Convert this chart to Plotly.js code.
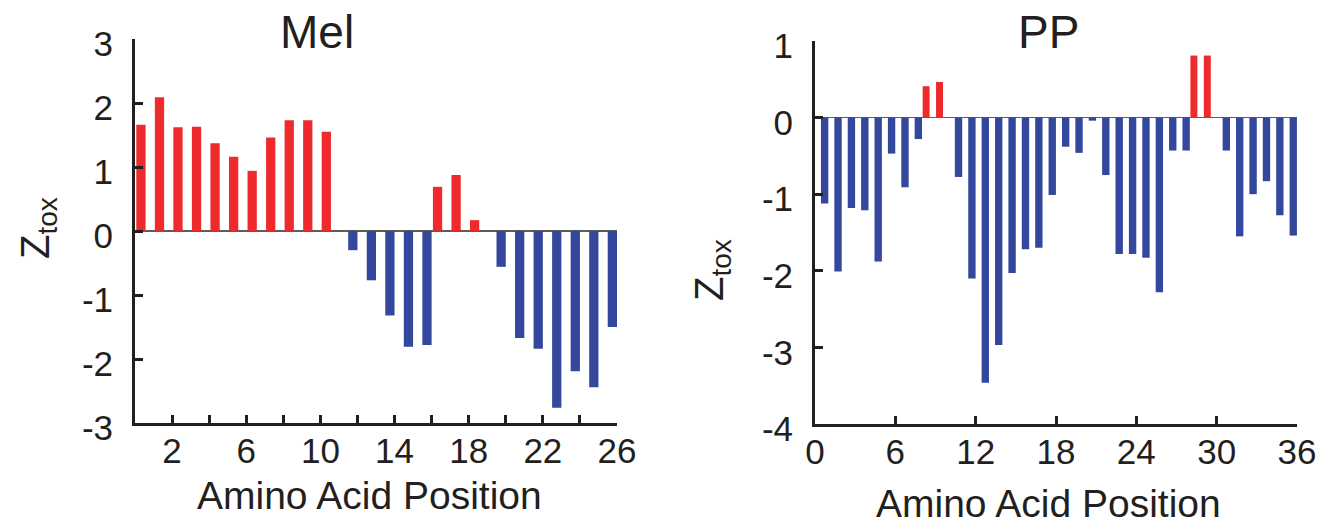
<!DOCTYPE html>
<html>
<head>
<meta charset="utf-8">
<script src="https://cdn.plot.ly/plotly-3.0.1.min.js"></script>
<style>
  html, body { margin: 0; padding: 0; background: #ffffff; }
  #chart { width: 1317px; height: 527px; }
</style>
</head>
<body>
<div id="chart"></div>
<script>
// ---- Data ----
const melPositions = [1,2,3,4,5,6,7,8,9,10,11,12,13,14,15,16,17,18,19,20,21,22,23,24,25,26];
const melValues = [1.66, 2.09, 1.62, 1.63, 1.37, 1.16, 0.94, 1.46, 1.73, 1.73, 1.55,
                   -0.30, -0.77, -1.32, -1.81, -1.78, 0.69, 0.875, 0.17,
                   -0.56, -1.67, -1.84, -2.76, -2.19, -2.44, -1.50];

const ppPositions = [1,2,3,4,5,6,7,8,9,10,11,12,13,14,15,16,17,18,19,20,21,22,23,24,25,26,27,28,29,30,31,32,33,34,35,36];
const ppValues = [-1.12, -2.01, -1.18, -1.21, -1.88, -0.47, -0.91, -0.28, 0.41, 0.465,
                  -0.775, -2.10, -3.46, -2.97, -2.03, -1.72, -1.70, -1.01, -0.38, -0.46,
                  -0.04, -0.75, -1.78, -1.78, -1.83, -2.28, -0.43, -0.43, 0.81, 0.81,
                  -0.43, -1.55, -1.00, -0.83, -1.275, -1.54];

const melXTickVals = [0,2,4,6,8,10,12,14,16,18,20,22,24,26];
const melXTickText = ["","2","","6","","10","","14","","18","","22","","26"];
const melYTickVals = [-3,-2,-1,0,1,2,3];
const melYTickText = ["-3","-2","-1","0","1","2","3"];

const ppXTickVals = [0,6,12,18,24,30,36];
const ppXTickText = ["0","6","12","18","24","30","36"];
const ppYTickVals = [-4,-3,-2,-1,0,1];
const ppYTickText = ["-4","-3","-2","-1","0","1"];

const titles = ["Mel", "PP"];
const xTitle = "Amino Acid Position";
const yTitle = "Z<sub>tox</sub>";

// ---- Style ----
const RED = "#ee2a2c";
const BLUE = "#33479c";
const INK = "#231f20";
const FONT = "Liberation Sans, Arial, sans-serif";
const W = 1317, H = 527;
const px = v => v / W;
const py = v => 1 - v / H;

function pos(values) { return values.map(v => v > 0 ? v : null); }
function neg(values) { return values.map(v => v < 0 ? v : null); }

const traces = [
  { type: "bar", x: melPositions, y: pos(melValues), xaxis: "x", yaxis: "y",
    marker: { color: RED, line: { width: 0 } }, width: 0.5, offset: -0.93, hoverinfo: "skip" },
  { type: "bar", x: melPositions, y: neg(melValues), xaxis: "x", yaxis: "y",
    marker: { color: BLUE, line: { width: 0 } }, width: 0.5, offset: -0.5, hoverinfo: "skip" },
  { type: "bar", x: ppPositions, y: pos(ppValues), xaxis: "x2", yaxis: "y2",
    marker: { color: RED, line: { width: 0 } }, width: 0.52, offset: -0.96, hoverinfo: "skip" },
  { type: "bar", x: ppPositions, y: neg(ppValues), xaxis: "x2", yaxis: "y2",
    marker: { color: BLUE, line: { width: 0 } }, width: 0.55, offset: -0.555, hoverinfo: "skip" }
];

const tickFont = { family: FONT, size: 35, color: INK };

function xAxis(domain, range, tv, tt, anchor) {
  return {
    domain: domain, range: range, anchor: anchor,
    tickmode: "array", tickvals: tv, ticktext: tt,
    ticks: "inside", ticklen: 8, tickwidth: 3, tickcolor: INK,
    showline: true, linewidth: 3, linecolor: INK,
    showgrid: false, zeroline: false,
    tickfont: tickFont, ticklabelstandoff: -5, fixedrange: true
  };
}
function yAxis(domain, range, tv, tt, anchor) {
  return {
    domain: domain, range: range, anchor: anchor,
    tickmode: "array", tickvals: tv, ticktext: tt,
    ticks: "inside", ticklen: 8, tickwidth: 3, tickcolor: INK,
    showline: true, linewidth: 3, linecolor: INK,
    showgrid: false, zeroline: true, zerolinecolor: "#5c5c5c", zerolinewidth: 1.6,
    tickfont: tickFont, ticklabelstandoff: 12, ticklabelshift: 5, fixedrange: true
  };
}

const layout = {
  width: W, height: H,
  margin: { l: 0, r: 0, t: 0, b: 0 },
  paper_bgcolor: "#ffffff", plot_bgcolor: "#ffffff",
  showlegend: false, barmode: "overlay",
  xaxis: xAxis([px(135), px(617)], [0, 26], melXTickVals, melXTickText, "y"),
  yaxis: yAxis([py(423), py(39)], [-3, 3], melYTickVals, melYTickText, "x"),
  xaxis2: xAxis([px(815), px(1297)], [0, 36], ppXTickVals, ppXTickText, "y2"),
  yaxis2: yAxis([py(424), py(41)], [-4, 1], ppYTickVals, ppYTickText, "x2"),
  annotations: [
    { text: titles[0], xref: "paper", yref: "paper", x: px(317), y: py(32),
      xanchor: "center", yanchor: "middle", showarrow: false,
      font: { family: FONT, size: 46, color: INK } },
    { text: titles[1], xref: "paper", yref: "paper", x: px(1048), y: py(32),
      xanchor: "center", yanchor: "middle", showarrow: false,
      font: { family: FONT, size: 46, color: INK } },
    { text: xTitle, xref: "paper", yref: "paper", x: px(370), y: py(495),
      xanchor: "center", yanchor: "middle", showarrow: false,
      font: { family: FONT, size: 39, color: INK } },
    { text: xTitle, xref: "paper", yref: "paper", x: px(1048), y: py(503),
      xanchor: "center", yanchor: "middle", showarrow: false,
      font: { family: FONT, size: 39, color: INK } },
    { text: yTitle, xref: "paper", yref: "paper", x: px(38), y: py(228),
      xanchor: "center", yanchor: "middle", showarrow: false, textangle: -90,
      font: { family: FONT, size: 40, color: INK } },
    { text: yTitle, xref: "paper", yref: "paper", x: px(712), y: py(270),
      xanchor: "center", yanchor: "middle", showarrow: false, textangle: -90,
      font: { family: FONT, size: 40, color: INK } }
  ]
};

Plotly.newPlot("chart", traces, layout, { displayModeBar: false, staticPlot: true });
</script>
</body>
</html>
